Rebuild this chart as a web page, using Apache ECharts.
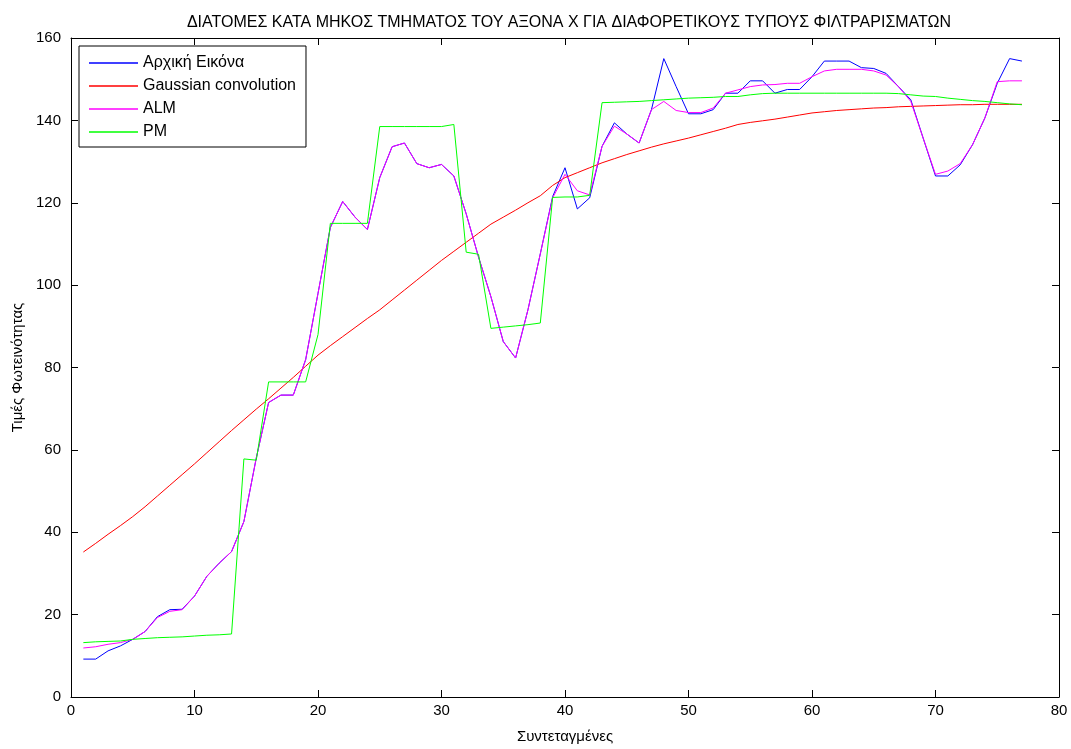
<!DOCTYPE html>
<html>
<head>
<meta charset="utf-8">
<script src="https://cdn.jsdelivr.net/npm/echarts@6/dist/echarts.min.js"></script>
<style>html,body{margin:0;padding:0;background:#fff}#c{width:1071px;height:749px}</style>
</head>
<body>
<div id="c"></div>
<script>
const titleText = 'ΔΙΑΤΟΜΕΣ ΚΑΤΑ ΜΗΚΟΣ ΤΜΗΜΑΤΟΣ ΤΟΥ ΑΞΟΝΑ Χ ΓΙΑ ΔΙΑΦΟΡΕΤΙΚΟΥΣ ΤΥΠΟΥΣ ΦΙΛΤΡΑΡΙΣΜΑΤΩΝ';
const xName = 'Συντεταγμένες';
const yName = 'Τιμές Φωτεινότητας';
const seriesNames = ['Αρχική Εικόνα', 'Gaussian convolution', 'ALM', 'PM'];
const seriesColors = ['#0000FF', '#FF0000', '#FF00FF', '#00FF00'];

const xs = [1,2,3,4,5,6,7,8,9,10,11,12,13,14,15,16,17,18,19,20,21,22,23,24,25,26,27,28,29,30,31,32,33,34,35,36,37,38,39,40,41,42,43,44,45,46,47,48,49,50,51,52,53,54,55,56,57,58,59,60,61,62,63,64,65,66,67,68,69,70,71,72,73,74,75,76,77];

const original = [9.2,9.2,11.2,12.4,14,15.9,19.5,21.2,21.3,24.5,29.3,32.5,35.3,42.6,58,71.5,73.3,73.3,81.9,98,114,120.3,116.5,113.5,126.1,133.6,134.5,129.5,128.5,129.3,126.5,117.3,106.8,97.2,86.3,82.3,94,107.6,121.5,128.5,118.5,121.2,133.7,139.4,136.7,134.5,142.6,155,148.2,141.6,141.6,142.6,146.6,146.6,149.6,149.6,146.6,147.5,147.5,150.6,154.4,154.4,154.4,152.8,152.6,151.4,148.2,145,135.7,126.5,126.5,129.2,134.1,140.6,149,155,154.4];

const gaussian = [35.2,37.3,39.5,41.6,43.8,46.2,48.8,51.4,54,56.6,59.3,62,64.7,67.3,69.9,72.4,75,77.6,80.3,83,85.3,87.5,89.7,91.9,94,96.4,98.8,101.2,103.6,106,108.2,110.4,112.6,114.8,116.5,118.2,120,121.7,124.2,126.1,127.3,128.5,129.7,130.7,131.7,132.6,133.5,134.3,135,135.7,136.5,137.3,138.1,139,139.5,139.9,140.3,140.8,141.3,141.8,142.1,142.4,142.6,142.8,143,143.1,143.3,143.4,143.5,143.6,143.7,143.8,143.8,143.9,143.9,143.9,143.9];

const alm = [11.9,12.2,12.8,13.2,14,15.9,19.3,20.8,21.2,24.5,29.3,32.5,35.3,42.6,58,71.5,73.3,73.3,81.9,98,114,120.3,116.5,113.5,126.1,133.6,134.5,129.5,128.5,129.3,126.5,117.3,106.8,97.2,86.3,82.3,94,107.6,121.2,126.9,122.9,121.9,133.7,138.6,136.7,134.5,142.6,144.6,142.4,141.9,141.9,143,146.6,147.4,148.2,148.6,148.7,149,149,150.6,152,152.4,152.4,152.4,152,151,148.2,144.6,135.7,126.9,127.7,129.5,134.1,140.6,149.4,149.6,149.6];

const pm = [13.2,13.4,13.5,13.6,14,14.2,14.4,14.5,14.6,14.8,15,15.1,15.3,57.8,57.5,76.5,76.5,76.5,76.5,88,115,115,115,115,138.5,138.5,138.5,138.5,138.5,138.5,139,108,107.5,89.5,89.8,90.1,90.4,90.8,121.3,121.4,121.4,121.8,144.3,144.4,144.5,144.6,144.8,145,145.2,145.4,145.5,145.6,145.8,145.8,146.2,146.5,146.6,146.6,146.6,146.6,146.6,146.6,146.6,146.6,146.6,146.6,146.5,146.2,145.9,145.8,145.4,145.1,144.8,144.6,144.3,144,143.8];

const xTicks = {min: 0, max: 80, interval: 10};
const yTicks = {min: 0, max: 160, interval: 20};

const allData = [original, gaussian, alm, pm];
const FONT = 'Liberation Sans';

const chart = echarts.init(document.getElementById('c'), null, {renderer: 'canvas'});

function axisBase(extra) {
  return Object.assign({
    type: 'value',
    splitLine: {show: false},
    axisLine: {show: true, onZero: false, lineStyle: {color: '#000', width: 1}},
    axisTick: {show: true, inside: true, length: 7, lineStyle: {color: '#000', width: 1}},
  }, extra);
}

chart.setOption({
  backgroundColor: '#fff',
  animation: false,
  textStyle: {fontFamily: FONT},
  title: {
    text: titleText,
    left: 564,
    textAlign: 'center',
    top: 10,
    textStyle: {fontFamily: FONT, fontSize: 16, fontWeight: 'normal', color: '#000'}
  },
  legend: {
    orient: 'vertical',
    left: 79,
    top: 46,
    padding: [9, 10, 7, 10],
    itemGap: 7,
    itemWidth: 49,
    itemHeight: 1.5,
    icon: 'rect',
    backgroundColor: '#fff',
    borderColor: '#000',
    borderWidth: 1,
    borderRadius: 0,
    textStyle: {fontFamily: FONT, fontSize: 16, color: '#000', padding: [0, 0, 0, 0]},
    data: seriesNames
  },
  grid: {left: 71, right: 12, top: 38, bottom: 46, containLabel: false},
  xAxis: [
    axisBase({
      min: xTicks.min, max: xTicks.max, interval: xTicks.interval,
      position: 'bottom',
      name: xName, nameLocation: 'middle', nameGap: 32,
      nameTextStyle: {fontFamily: FONT, fontSize: 15, color: '#000'},
      axisLabel: {fontFamily: FONT, fontSize: 15, color: '#000', margin: 6}
    }),
    axisBase({
      min: xTicks.min, max: xTicks.max, interval: xTicks.interval,
      position: 'top', axisLabel: {show: false}
    })
  ],
  yAxis: [
    axisBase({
      min: yTicks.min, max: yTicks.max, interval: yTicks.interval,
      position: 'left',
      name: yName, nameLocation: 'middle', nameGap: 45,
      nameTextStyle: {fontFamily: FONT, fontSize: 15, color: '#000'},
      axisLabel: {fontFamily: FONT, fontSize: 15, color: '#000', margin: 10}
    }),
    axisBase({
      min: yTicks.min, max: yTicks.max, interval: yTicks.interval,
      position: 'right', axisLabel: {show: false}
    })
  ],
  series: seriesNames.map((name, i) => ({
    name: name,
    type: 'line',
    xAxisIndex: 0,
    yAxisIndex: 0,
    showSymbol: false,
    symbol: 'none',
    color: seriesColors[i],
    lineStyle: {color: seriesColors[i], width: 1},
    data: xs.map((x, j) => [x, allData[i][j]])
  }))
});
</script>
</body>
</html>
